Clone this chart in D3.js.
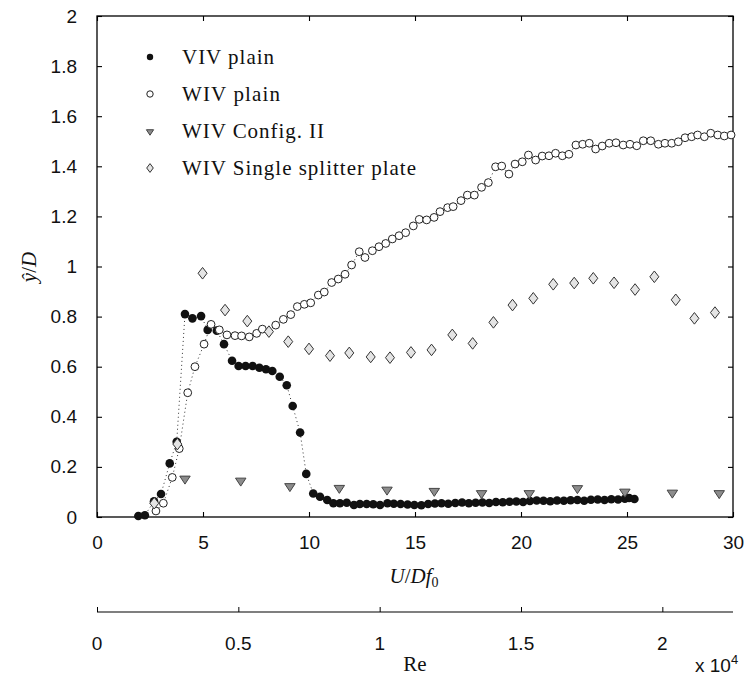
<!DOCTYPE html>
<html><head><meta charset="utf-8">
<script src="https://cdn.jsdelivr.net/npm/d3@7"></script>
<style>body{margin:0;background:#fff}svg{display:block}</style>
</head><body>
<svg id="c" width="746" height="678"></svg>
<script>
// ---- data ----
const vivX = [1.95,2.26,2.69,3.02,3.43,3.76,4.15,4.50,4.91,5.22,5.65,5.99,6.37,6.68,7.01,7.34,7.66,7.97,8.27,8.62,8.95,9.23,9.58,9.87,10.20,10.52,10.86,
  11.15,11.46,11.78,12.12,12.40,12.72,13.03,13.35,13.70,14.00,14.32,14.65,14.97,15.30,15.62,15.94,16.25,16.57,16.90,17.22,17.54,17.86,18.18,18.50,18.82,19.14,19.46,19.78,20.10,20.42,20.74,21.06,21.38,21.70,22.02,22.34,22.66,22.98,23.30,23.62,23.94,24.26,24.58,24.90,25.10,25.35];
const vivY = [0.004,0.007,0.063,0.092,0.214,0.300,0.810,0.793,0.802,0.747,0.744,0.690,0.624,0.603,0.603,0.603,0.596,0.590,0.583,0.560,0.526,0.443,0.337,0.172,0.094,0.081,0.068,
  0.055,0.055,0.057,0.048,0.052,0.052,0.051,0.048,0.055,0.053,0.052,0.050,0.048,0.047,0.052,0.054,0.055,0.053,0.056,0.058,0.055,0.057,0.058,0.056,0.060,0.059,0.061,0.062,0.060,0.064,0.066,0.065,0.063,0.066,0.065,0.067,0.068,0.065,0.069,0.070,0.068,0.071,0.070,0.073,0.076,0.072];

const wivX = [2.78,3.13,3.55,3.88,4.28,4.62,5.05,5.38,5.77,6.13,6.51,6.82,7.18,7.53,7.80,8.43,8.79,9.14,9.45,9.78,10.08,10.44,10.72,11.07,11.38,11.70,12.01,12.37,12.64,12.99,13.30,13.62,13.93,14.25,14.56,14.92,15.20,15.55,15.90,16.18,16.54,16.80,17.17,17.47,17.80,18.14,18.46,18.80,19.09,19.43,19.72,20.06,20.35,20.69,21.00,21.32,21.63,21.95,22.26,22.59,22.91,23.22,23.52,23.83,24.16,24.48,24.82,25.14,25.46,25.77,26.12,26.48,26.79,27.11,27.42,27.74,28.05,28.33,28.65,28.95,29.28,29.59,29.91];
const wivY = [0.024,0.055,0.158,0.273,0.496,0.600,0.690,0.769,0.747,0.727,0.724,0.723,0.719,0.733,0.750,0.766,0.789,0.808,0.840,0.849,0.855,0.886,0.898,0.936,0.950,0.969,1.006,1.059,1.036,1.063,1.079,1.092,1.110,1.123,1.135,1.162,1.188,1.186,1.196,1.219,1.235,1.239,1.263,1.285,1.285,1.316,1.335,1.398,1.401,1.369,1.409,1.418,1.445,1.425,1.441,1.442,1.452,1.442,1.448,1.485,1.488,1.492,1.469,1.481,1.492,1.494,1.485,1.488,1.482,1.502,1.502,1.488,1.492,1.492,1.498,1.514,1.518,1.525,1.518,1.532,1.525,1.521,1.525];

const cfgX = [4.15,6.78,9.10,11.43,13.68,15.91,18.14,20.39,22.66,24.90,27.14,29.35];
const cfgY = [0.150,0.142,0.120,0.113,0.106,0.101,0.092,0.092,0.112,0.098,0.094,0.092];

const sspX = [2.70,3.79,4.98,6.04,7.09,8.11,9.02,10.00,10.99,11.90,12.91,13.82,14.81,15.78,16.76,17.72,18.70,19.60,20.58,21.52,22.51,23.41,24.39,25.38,26.29,27.30,28.18,29.15];
const sspY = [0.055,0.291,0.973,0.826,0.782,0.740,0.700,0.671,0.644,0.655,0.639,0.636,0.657,0.667,0.727,0.693,0.777,0.846,0.873,0.929,0.934,0.953,0.935,0.908,0.959,0.867,0.793,0.816];

const xTicks = [0,5,10,15,20,25,30];
const yTicks = [0,0.2,0.4,0.6,0.8,1,1.2,1.4,1.6,1.8,2];
const reTicks = [0,0.5,1,1.5,2];
const legendLabels = ["VIV plain","WIV plain","WIV Config. II","WIV Single splitter plate"];
const legendWidths = [92,98,142,234];

// ---- layout ----
const svg = d3.select("#c");
const L = 97, R = 733, T = 16, B = 517;
const x = d3.scaleLinear().domain([0,30]).range([L,R]);
const y = d3.scaleLinear().domain([0,2]).range([B,T]);
const xr = d3.scaleLinear().domain([0,2.25]).range([L,R]);
const numFont = "'Liberation Sans', Arial, sans-serif";
const serif = "'Liberation Serif', 'Times New Roman', serif";
const fmt = d => String(d);

// frame
svg.append("rect").attr("x",L).attr("y",T).attr("width",R-L).attr("height",B-T)
  .attr("fill","none").attr("stroke","#000").attr("stroke-width",1.3);

function styleAxis(g){
  g.select(".domain").remove();
  g.selectAll("line").attr("stroke","#000").attr("stroke-width",1.1);
  g.selectAll("text").attr("font-family",numFont).attr("font-size","19px").attr("fill","#111");
}
svg.append("g").attr("transform",`translate(0,${B})`)
  .call(d3.axisBottom(x).tickValues(xTicks).tickSizeInner(-5).tickSizeOuter(0).tickPadding(19).tickFormat(fmt))
  .call(styleAxis);
svg.append("g").attr("transform",`translate(0,${T})`)
  .call(d3.axisTop(x).tickValues(xTicks).tickSizeInner(-5).tickSizeOuter(0).tickFormat(""))
  .call(styleAxis);
svg.append("g").attr("transform",`translate(${L},0)`)
  .call(d3.axisLeft(y).tickValues(yTicks).tickSizeInner(-5).tickSizeOuter(0).tickPadding(20).tickFormat(fmt))
  .call(styleAxis);
svg.append("g").attr("transform",`translate(${R},0)`)
  .call(d3.axisRight(y).tickValues(yTicks).tickSizeInner(-5).tickSizeOuter(0).tickFormat(""))
  .call(styleAxis);

// secondary Re axis
const reG = svg.append("g").attr("transform",`translate(0,612)`)
  .call(d3.axisTop(xr).tickValues(reTicks).tickSizeInner(5).tickSizeOuter(0).tickFormat(""));
reG.select(".domain").attr("stroke","#000").attr("stroke-width",1.1).attr("d",`M${L},0H${R}`);
reG.selectAll("line").attr("stroke","#000");
svg.append("g").selectAll("text").data(reTicks).join("text")
  .attr("x",d=>xr(d)).attr("y",650).attr("text-anchor","middle")
  .attr("font-family",numFont).attr("font-size","19px").attr("fill","#111").text(fmt);

// axis titles
const xl = svg.append("text").attr("x",414).attr("y",583).attr("text-anchor","middle")
  .attr("font-family",serif).attr("font-size","21px").attr("font-style","italic").attr("fill","#111");
xl.append("tspan").text("U");
xl.append("tspan").attr("font-style","normal").text("/");
xl.append("tspan").text("Df");
xl.append("tspan").attr("font-style","normal").attr("font-size","14px").attr("dy",4).text("0");

svg.append("text").attr("x",415).attr("y",671).attr("text-anchor","middle")
  .attr("font-family",serif).attr("font-size","21px").attr("fill","#111").text("Re");
const ex = svg.append("text").attr("x",695).attr("y",672)
  .attr("font-family",numFont).attr("font-size","19px").attr("fill","#111");
ex.append("tspan").text("x 10");
ex.append("tspan").attr("font-size","13px").attr("dy",-8).text("4");

const yl = svg.append("text").attr("transform","translate(36,267) rotate(-90)").attr("text-anchor","middle")
  .attr("font-family",serif).attr("font-size","21px").attr("font-style","italic").attr("fill","#111");
yl.append("tspan").text("ŷ");
yl.append("tspan").attr("font-style","normal").text("/");
yl.append("tspan").text("D");

// dotted connecting lines
const line = d3.line().x(d=>x(d[0])).y(d=>y(d[1]));
const vivPts = vivX.map((v,i)=>[v,vivY[i]]);
const wivPts = wivX.map((v,i)=>[v,wivY[i]]);
const cfgPts = cfgX.map((v,i)=>[v,cfgY[i]]);
const sspPts = sspX.map((v,i)=>[v,sspY[i]]);
[vivPts,wivPts].forEach(p=>svg.append("path").attr("d",line(p)).attr("fill","none")
  .attr("stroke","#333").attr("stroke-width",1).attr("stroke-dasharray","1,3"));

// markers
const plot = svg.append("g");
plot.selectAll(".viv").data(vivPts).join("circle").attr("class","viv")
  .attr("cx",d=>x(d[0])).attr("cy",d=>y(d[1])).attr("r",4.3).attr("fill","#111");
plot.selectAll(".wiv").data(wivPts).join("circle").attr("class","wiv")
  .attr("cx",d=>x(d[0])).attr("cy",d=>y(d[1])).attr("r",3.9).attr("fill","#fff")
  .attr("stroke","#222").attr("stroke-width",1);
const tri = (s)=>`M${-s*0.95},${-s*0.6}L${s*0.95},${-s*0.6}L0,${s*0.85}Z`;
const dia = (w,h)=>`M0,${-h}L${w},0L0,${h}L${-w},0Z`;
plot.selectAll(".cfg").data(cfgPts).join("path").attr("class","cfg")
  .attr("transform",d=>`translate(${x(d[0])},${y(d[1])})`).attr("d",tri(5.5))
  .attr("fill","#8c8c8c").attr("stroke","#444").attr("stroke-width",1);
plot.selectAll(".ssp").data(sspPts).join("path").attr("class","ssp")
  .attr("transform",d=>`translate(${x(d[0])},${y(d[1])})`).attr("d",dia(4.5,5.8))
  .attr("fill","#e4e4e4").attr("stroke","#333").attr("stroke-width",1);

// legend
const lg = svg.append("g");
const rows = [57,94,131,168];
lg.append("circle").attr("cx",150).attr("cy",rows[0]).attr("r",3.2).attr("fill","#111");
lg.append("circle").attr("cx",150).attr("cy",rows[1]).attr("r",3.2).attr("fill","#fff").attr("stroke","#222");
lg.append("path").attr("transform",`translate(150,${rows[2]+1})`).attr("d",tri(3.8))
  .attr("fill","#8c8c8c").attr("stroke","#444");
lg.append("path").attr("transform",`translate(150,${rows[3]})`).attr("d",dia(3.3,4.4))
  .attr("fill","#e4e4e4").attr("stroke","#333");
lg.selectAll("text").data(legendLabels).join("text")
  .attr("x",182).attr("y",(d,i)=>rows[i]+7)
  .attr("textLength",(d,i)=>legendWidths[i]).attr("lengthAdjust","spacing")
  .attr("font-family",serif).attr("font-size","21px").attr("fill","#111").text(d=>d);
</script>
</body></html>
